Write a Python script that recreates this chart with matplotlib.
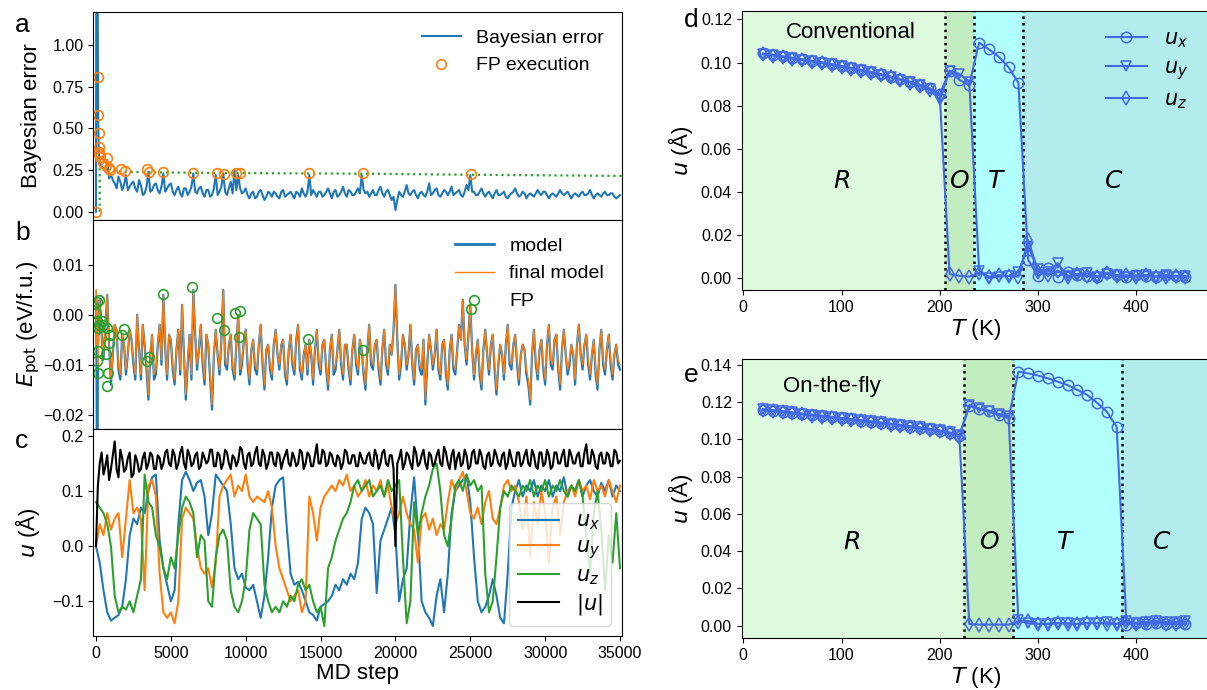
import numpy as np
import matplotlib
matplotlib.use('Agg')
import matplotlib.pyplot as plt
from matplotlib.lines import Line2D

plt.rcParams['font.family'] = ['Liberation Sans', 'DejaVu Sans']
plt.rcParams['mathtext.fontset'] = 'dejavusans'
plt.rcParams['xtick.labelsize'] = 11.5
plt.rcParams['ytick.labelsize'] = 11.5

# ---------------- data: panel a (Bayesian error) ----------------
early_steps = [0, 20, 60, 100, 140, 180, 220]
err_early = [0.0, 1.6, 1.6, 1.6, 0.6, 0.38, 0.32]
# values at steps 250, 500, ..., 35000
bayes_err = [0.30, 0.26, 0.31, 0.22, 0.17, 0.21, 0.13,
             0.22, 0.15, 0.18, 0.12, 0.16, 0.11, 0.24, 0.13,
             0.17, 0.11, 0.23, 0.14, 0.17, 0.10, 0.15, 0.09,
             0.14, 0.12, 0.23, 0.11, 0.15, 0.09, 0.13, 0.10,
             0.22, 0.12, 0.23, 0.10, 0.18, 0.25, 0.22, 0.11,
             0.14, 0.08, 0.12, 0.09, 0.13, 0.07, 0.12, 0.09,
             0.11, 0.08, 0.13, 0.10, 0.12, 0.08, 0.11, 0.14,
             0.09, 0.22, 0.13, 0.09, 0.12, 0.10, 0.14, 0.08,
             0.13, 0.10, 0.15, 0.09, 0.12, 0.10, 0.14, 0.22,
             0.11, 0.09, 0.13, 0.10, 0.15, 0.09, 0.13, 0.07,
             0.01, 0.12, 0.09, 0.16, 0.10, 0.13, 0.08, 0.12,
             0.09, 0.17, 0.11, 0.14, 0.09, 0.13, 0.10, 0.15,
             0.11, 0.13, 0.09, 0.16, 0.22, 0.12, 0.10, 0.14,
             0.09, 0.12, 0.08, 0.13, 0.10, 0.12, 0.08, 0.11,
             0.14, 0.09, 0.12, 0.08, 0.11, 0.09, 0.13, 0.10,
             0.12, 0.08, 0.11, 0.09, 0.13, 0.10, 0.12, 0.08,
             0.11, 0.09, 0.12, 0.10, 0.13, 0.08, 0.11, 0.09,
             0.12, 0.10, 0.11, 0.08, 0.10]
# values at steps 375, 625, ..., 34875
bayes_err_mid = [0.27, 0.24, 0.20, 0.19, 0.14, 0.18, 0.16,
                 0.13, 0.17, 0.14, 0.19, 0.10, 0.15, 0.12, 0.16,
                 0.13, 0.15, 0.12, 0.16, 0.12, 0.13, 0.11, 0.14,
                 0.10, 0.15, 0.12, 0.14, 0.11, 0.13, 0.09, 0.14,
                 0.10, 0.15, 0.12, 0.14, 0.11, 0.13, 0.14, 0.12,
                 0.10, 0.11, 0.08, 0.12, 0.10, 0.09, 0.11, 0.12,
                 0.09, 0.12, 0.09, 0.11, 0.10, 0.12, 0.09, 0.11,
                 0.12, 0.10, 0.11, 0.12, 0.09, 0.12, 0.11, 0.12,
                 0.09, 0.12, 0.11, 0.13, 0.10, 0.12, 0.11, 0.13,
                 0.12, 0.11, 0.10, 0.13, 0.11, 0.12, 0.10, 0.09,
                 0.07, 0.10, 0.12, 0.11, 0.12, 0.10, 0.11, 0.10,
                 0.12, 0.10, 0.13, 0.10, 0.11, 0.12, 0.12, 0.10,
                 0.12, 0.10, 0.12, 0.13, 0.12, 0.10, 0.12, 0.11,
                 0.11, 0.10, 0.11, 0.10, 0.11, 0.09, 0.10, 0.12,
                 0.11, 0.10, 0.11, 0.10, 0.10, 0.11, 0.11, 0.12,
                 0.10, 0.10, 0.10, 0.11, 0.11, 0.11, 0.10, 0.10,
                 0.10, 0.11, 0.10, 0.11, 0.10, 0.10, 0.10, 0.11,
                 0.10, 0.11, 0.09, 0.09]
fp_a_steps = [20, 130, 150, 170, 185, 200, 215, 240, 470, 690, 750, 850, 915,
              1690, 1920, 3430, 3520, 4470, 6450, 8100, 8580, 9340, 9600,
              14210, 17840, 25080]
fp_a_vals = [0.0, 0.81, 0.58, 0.47, 0.39, 0.36, 0.345, 0.33, 0.29, 0.275, 0.325,
             0.26, 0.25, 0.255, 0.245, 0.255, 0.24, 0.24, 0.234, 0.232, 0.226,
             0.234, 0.23, 0.23, 0.232, 0.228]
thr_steps = [247, 247, 700, 1700, 3500, 6500, 9500, 14200, 18000, 25000, 35100]
thr_vals = [0.0, 0.27, 0.25, 0.24, 0.237, 0.234, 0.232, 0.23, 0.228, 0.222, 0.215]

# ---------------- data: panel b (potential energy) ----------------
model_early = [-0.002, 0.003, -0.03, -0.03, 0.002, -0.004, -0.002]
final_early = [-0.002, 0.005, -0.006, 0.002, -0.010, -0.003, -0.001]
# values at steps 250, 500, ..., 35000
model_E = [0.003, -0.009, 0.004, -0.014, -0.002, -0.011, -0.004,
           -0.012, -0.003, -0.010, 0.000, -0.013, -0.006, -0.017, -0.004,
           -0.012, -0.002, 0.004, -0.013, -0.005, -0.014, -0.003, 0.002,
           -0.017, -0.004, 0.005, -0.011, -0.002, -0.014, -0.006, -0.019,
           -0.003, -0.012, 0.005, -0.011, -0.004, -0.013, 0.000, -0.010,
           -0.003, -0.014, -0.005, -0.012, -0.002, -0.015, -0.006, -0.013,
           -0.003, -0.011, -0.005, -0.014, -0.004, -0.012, -0.002, -0.013,
           -0.006, -0.005, -0.014, -0.003, -0.012, -0.005, -0.015, -0.004,
           -0.011, -0.003, -0.013, -0.006, -0.014, -0.004, -0.012, -0.007,
           -0.015, -0.002, -0.011, -0.005, -0.014, -0.003, -0.012, -0.008,
           0.006, -0.013, -0.004, -0.011, -0.002, -0.014, -0.006, -0.012,
           -0.018, -0.004, -0.011, -0.003, -0.013, -0.005, -0.015, -0.004,
           -0.012, -0.002, 0.003, -0.010, 0.002, -0.013, -0.005, -0.015,
           -0.003, -0.012, -0.004, -0.016, -0.006, -0.013, -0.002, -0.011,
           -0.004, -0.014, -0.006, -0.012, -0.018, -0.003, -0.013, -0.005,
           -0.014, -0.002, -0.011, -0.004, -0.015, -0.003, -0.012, -0.006,
           -0.014, -0.002, -0.011, -0.004, -0.013, -0.005, -0.015, -0.003,
           -0.012, -0.004, -0.013, -0.006, -0.011]
final_E = [0.003, -0.008, 0.004, -0.013, -0.002, -0.010, -0.004,
           -0.011, -0.003, -0.009, 0.000, -0.012, -0.006, -0.016, -0.004,
           -0.011, -0.002, 0.004, -0.012, -0.005, -0.013, -0.003, 0.002,
           -0.016, -0.004, 0.005, -0.010, -0.002, -0.013, -0.006, -0.018,
           -0.003, -0.011, 0.005, -0.010, -0.004, -0.012, 0.000, -0.009,
           -0.003, -0.013, -0.005, -0.011, -0.002, -0.014, -0.006, -0.012,
           -0.003, -0.010, -0.005, -0.013, -0.004, -0.011, -0.002, -0.012,
           -0.006, -0.005, -0.013, -0.003, -0.011, -0.005, -0.014, -0.004,
           -0.010, -0.003, -0.012, -0.006, -0.013, -0.004, -0.011, -0.007,
           -0.014, -0.002, -0.010, -0.005, -0.013, -0.003, -0.011, -0.008,
           0.006, -0.012, -0.004, -0.010, -0.002, -0.013, -0.006, -0.011,
           -0.017, -0.004, -0.010, -0.003, -0.012, -0.005, -0.014, -0.004,
           -0.011, -0.002, 0.003, -0.009, 0.002, -0.012, -0.005, -0.014,
           -0.003, -0.011, -0.004, -0.015, -0.006, -0.012, -0.002, -0.010,
           -0.004, -0.013, -0.006, -0.011, -0.017, -0.003, -0.012, -0.005,
           -0.013, -0.002, -0.010, -0.004, -0.014, -0.003, -0.011, -0.006,
           -0.013, -0.002, -0.010, -0.004, -0.012, -0.005, -0.014, -0.003,
           -0.011, -0.004, -0.012, -0.006, -0.010]
# values at steps 375, 625, ..., 34875
model_E_mid = [-0.004, -0.002, -0.006, -0.008, -0.003, -0.013, -0.006,
               -0.008, -0.005, -0.013, -0.007, -0.002, -0.011, -0.008, -0.013,
               -0.006, -0.010, -0.007, -0.004, -0.011, -0.007, -0.012, -0.008,
               -0.010, -0.013, -0.004, -0.007, -0.010, -0.004, -0.013, -0.008,
               -0.008, -0.005, -0.010, -0.006, -0.011, -0.006, -0.012, -0.005,
               -0.010, -0.007, -0.011, -0.006, -0.010, -0.007, -0.011, -0.006,
               -0.008, -0.006, -0.012, -0.007, -0.010, -0.005, -0.011, -0.008,
               -0.012, -0.008, -0.007, -0.010, -0.006, -0.011, -0.007, -0.012,
               -0.007, -0.010, -0.006, -0.011, -0.007, -0.010, -0.005, -0.012,
               -0.007, -0.010, -0.006, -0.011, -0.007, -0.010, -0.006, -0.003,
               -0.005, -0.010, -0.006, -0.008, -0.010, -0.007, -0.011, -0.005,
               -0.010, -0.007, -0.008, -0.011, -0.006, -0.012, -0.007, -0.011,
               -0.007, -0.005, -0.006, -0.004, -0.007, -0.008, -0.012, -0.007,
               -0.008, -0.006, -0.011, -0.010, -0.008, -0.006, -0.010, -0.006,
               -0.010, -0.008, -0.007, -0.014, -0.008, -0.010, -0.007, -0.011,
               -0.006, -0.010, -0.005, -0.011, -0.007, -0.008, -0.010, -0.008,
               -0.006, -0.008, -0.006, -0.010, -0.008, -0.012, -0.007, -0.010,
               -0.007, -0.010, -0.008, -0.010]
final_E_mid = [-0.004, -0.002, -0.006, -0.008, -0.003, -0.012, -0.006,
               -0.008, -0.005, -0.012, -0.007, -0.002, -0.010, -0.008, -0.012,
               -0.006, -0.009, -0.007, -0.004, -0.010, -0.007, -0.011, -0.008,
               -0.009, -0.012, -0.004, -0.007, -0.009, -0.004, -0.012, -0.008,
               -0.008, -0.005, -0.009, -0.006, -0.010, -0.006, -0.011, -0.005,
               -0.009, -0.007, -0.010, -0.006, -0.009, -0.007, -0.010, -0.006,
               -0.008, -0.006, -0.011, -0.007, -0.009, -0.005, -0.010, -0.008,
               -0.011, -0.008, -0.007, -0.009, -0.006, -0.010, -0.007, -0.011,
               -0.007, -0.009, -0.006, -0.010, -0.007, -0.009, -0.005, -0.011,
               -0.007, -0.009, -0.006, -0.010, -0.007, -0.009, -0.006, -0.003,
               -0.005, -0.009, -0.006, -0.008, -0.009, -0.007, -0.010, -0.005,
               -0.009, -0.007, -0.008, -0.010, -0.006, -0.011, -0.007, -0.010,
               -0.007, -0.005, -0.006, -0.004, -0.007, -0.008, -0.011, -0.007,
               -0.008, -0.006, -0.010, -0.009, -0.008, -0.006, -0.009, -0.006,
               -0.009, -0.008, -0.007, -0.013, -0.008, -0.009, -0.007, -0.010,
               -0.006, -0.009, -0.005, -0.010, -0.007, -0.008, -0.009, -0.008,
               -0.006, -0.008, -0.006, -0.009, -0.008, -0.011, -0.007, -0.009,
               -0.007, -0.009, -0.008, -0.009]
fp_b_steps = [89, 222, 0, 89, 222, 378, 490, 156, 712, 935, 890, 156, 668, 89,
              156, 824, 757, 1758, 1892, 3382, 3538, 4450, 6409, 8078, 8545,
              9302, 9591, 9524, 14175, 17847, 25080, 25258]
fp_b_vals = [0.0025, 0.003, 0.0003, -0.0013, -0.002, -0.0013, -0.002, -0.0027,
             -0.0027, -0.004, -0.0057, -0.0072, -0.0079, -0.0093, -0.0117,
             -0.0117, -0.0143, -0.004, -0.0028, -0.0093, -0.0085, 0.0042,
             0.0055, -0.0007, -0.003, 0.0003, 0.0007, -0.0045, -0.0048,
             -0.0071, 0.0012, 0.0029]

# ---------------- data: panel c (displacements), steps 0, 250, ..., 35000 ----
u_x = [0.0, -0.03, -0.08, -0.12, -0.135, -0.13, -0.125, -0.11,
       -0.06, 0.02, 0.05, 0.04, 0.07, 0.06, 0.10, 0.125,
       0.13, 0.01, -0.04, -0.07, -0.10, -0.08, 0.04, 0.12,
       0.135, 0.12, 0.10, 0.115, 0.12, 0.09, 0.02, 0.06,
       0.13, 0.12, 0.11, 0.10, 0.04, -0.04, -0.06, -0.05,
       -0.075, -0.08, -0.07, -0.10, -0.13, -0.09, -0.02, 0.07,
       0.11, 0.12, 0.125, 0.03, -0.05, -0.07, -0.065, -0.08,
       -0.10, -0.12, -0.125, -0.135, -0.11, -0.105, -0.10, -0.09,
       -0.07, -0.08, -0.06, -0.07, -0.05, -0.06, -0.03, 0.05,
       0.07, 0.06, 0.04, -0.085, 0.01, 0.03, 0.05, 0.07,
       0.02, -0.10, -0.06, -0.04, 0.06, 0.125, 0.03, -0.10,
       -0.12, -0.13, -0.145, -0.09, -0.06, -0.12, -0.05, 0.06,
       0.10, 0.11, 0.12, 0.13, 0.08, -0.02, -0.10, -0.12,
       -0.11, -0.09, -0.06, -0.09, -0.13, -0.14, -0.05, 0.07,
       0.10, 0.12, 0.09, 0.11, 0.10, 0.12, 0.09, 0.11,
       0.10, 0.12, 0.09, 0.11, 0.10, 0.125, 0.09, 0.11,
       0.10, 0.12, 0.09, 0.11, 0.12, 0.10, 0.09, 0.115,
       0.10, 0.12, 0.09, 0.11, 0.10]
u_y = [0.0, 0.04, 0.02, 0.06, 0.03, 0.05, 0.06, -0.02,
       0.05, 0.12, 0.06, 0.07, 0.05, -0.08, 0.11, 0.12,
       0.09, -0.05, -0.12, -0.13, -0.12, -0.14, -0.10, 0.05,
       0.07, 0.06, 0.05, 0.00, -0.04, -0.05, -0.04, -0.075,
       -0.03, 0.09, 0.11, 0.12, 0.13, 0.09, 0.11, 0.10,
       0.13, 0.09, 0.08, 0.09, 0.085, 0.08, 0.10, 0.07,
       0.0, -0.04, -0.06, -0.08, -0.10, -0.09, -0.08, -0.12,
       -0.10, 0.09, 0.06, 0.01, 0.07, 0.09, 0.10, 0.11,
       0.10, 0.12, 0.11, 0.13, 0.10, 0.11, 0.09, 0.10,
       0.12, 0.09, 0.11, 0.10, 0.12, 0.09, 0.11, 0.07,
       0.04, 0.06, 0.09, 0.06, 0.04, 0.03, -0.03, 0.05,
       0.06, 0.03, 0.05, 0.02, 0.04, 0.03, 0.08, 0.12,
       0.10, 0.12, 0.135, 0.10, 0.06, 0.05, 0.07, 0.04,
       0.08, 0.10, 0.05, 0.04, 0.07, 0.11, 0.12, 0.10,
       0.11, 0.08, 0.03, 0.09, -0.02, 0.08, 0.04, 0.10,
       0.06, -0.03, 0.07, 0.09, 0.02, 0.08, 0.10, 0.11,
       0.09, 0.12, 0.10, 0.11, 0.085, 0.12, 0.10, 0.11,
       0.09, 0.12, 0.10, 0.08, 0.11]
u_z = [0.08, 0.07, 0.06, 0.04, 0.0, -0.09, -0.12, -0.11,
       -0.115, -0.10, -0.12, -0.09, -0.06, 0.13, 0.08, 0.07,
       0.02, 0.0, -0.04, -0.06, -0.02, -0.04, 0.02, 0.07,
       0.09, 0.08, 0.06, -0.02, 0.02, 0.01, -0.10, -0.11,
       -0.02, 0.02, 0.03, 0.01, -0.08, -0.11, -0.12, -0.10,
       -0.06, 0.03, 0.06, 0.05, 0.04, -0.07, -0.10, -0.12,
       -0.11, -0.12, -0.10, -0.11, -0.09, -0.10, -0.07, -0.06,
       -0.08, -0.07, -0.10, -0.12, -0.11, -0.145, -0.04, -0.02,
       0.01, 0.03, 0.05, 0.06, 0.08, 0.11, 0.12, 0.10,
       0.11, 0.12, 0.09, 0.10, 0.11, 0.09, 0.12, 0.10,
       0.11, 0.12, -0.02, -0.14, -0.10, 0.08, 0.02, 0.06,
       0.09, 0.11, 0.14, 0.15, 0.10, 0.02, 0.00, 0.05,
       0.11, 0.12, 0.10, 0.13, 0.11, 0.12, 0.10, 0.11,
       -0.05, -0.12, -0.10, -0.02, 0.07, 0.10, 0.09, 0.11,
       0.10, 0.09, 0.11, 0.10, 0.12, 0.09, 0.11, 0.10,
       0.12, 0.09, 0.11, 0.10, 0.12, 0.10, 0.09, 0.11,
       0.10, 0.12, 0.09, 0.02, -0.05, 0.06, 0.10, 0.03,
       -0.08, 0.02, -0.03, 0.06, -0.04]
u_abs = [0.0, 0.15, 0.13, 0.165, 0.14, 0.19, 0.125, 0.16,
         0.14, 0.17, 0.13, 0.155, 0.14, 0.17, 0.15, 0.165,
         0.14, 0.16, 0.15, 0.175, 0.145, 0.165, 0.15, 0.18,
         0.14, 0.165, 0.15, 0.17, 0.145, 0.16, 0.155, 0.175,
         0.145, 0.165, 0.15, 0.17, 0.14, 0.16, 0.155, 0.175,
         0.14, 0.17, 0.15, 0.18, 0.145, 0.165, 0.15, 0.17,
         0.145, 0.165, 0.155, 0.175, 0.145, 0.16, 0.15, 0.17,
         0.15, 0.165, 0.145, 0.185, 0.15, 0.17, 0.15, 0.165,
         0.145, 0.16, 0.15, 0.17, 0.15, 0.165, 0.145, 0.16,
         0.15, 0.17, 0.145, 0.165, 0.15, 0.175, 0.145, 0.165,
         0.0, 0.16, 0.14, 0.17, 0.15, 0.18, 0.145, 0.165,
         0.15, 0.17, 0.145, 0.165, 0.15, 0.18, 0.15, 0.165,
         0.14, 0.17, 0.15, 0.165, 0.145, 0.175, 0.15, 0.165,
         0.14, 0.17, 0.15, 0.165, 0.145, 0.17, 0.15, 0.16,
         0.145, 0.17, 0.15, 0.175, 0.145, 0.165, 0.14, 0.17,
         0.15, 0.165, 0.145, 0.17, 0.15, 0.175, 0.145, 0.165,
         0.15, 0.17, 0.145, 0.185, 0.15, 0.165, 0.14, 0.17,
         0.15, 0.165, 0.145, 0.17, 0.155]
# |u| at steps 125, 375, ..., 34875
u_abs_mid = [0.11, 0.17, 0.145, 0.12, 0.165, 0.14, 0.175, 0.135,
             0.16, 0.125, 0.165, 0.135, 0.16, 0.14, 0.17, 0.14,
             0.165, 0.14, 0.17, 0.15, 0.175, 0.14, 0.17, 0.15,
             0.175, 0.145, 0.165, 0.14, 0.17, 0.15, 0.175, 0.145,
             0.17, 0.14, 0.175, 0.15, 0.165, 0.145, 0.18, 0.15,
             0.165, 0.145, 0.17, 0.15, 0.175, 0.14, 0.17, 0.15,
             0.17, 0.14, 0.165, 0.15, 0.17, 0.145, 0.175, 0.14,
             0.17, 0.145, 0.165, 0.15, 0.175, 0.145, 0.17, 0.15,
             0.165, 0.14, 0.175, 0.15, 0.165, 0.145, 0.17, 0.15,
             0.165, 0.15, 0.175, 0.14, 0.17, 0.15, 0.165, 0.14,
             0.15, 0.175, 0.15, 0.165, 0.14, 0.17, 0.15, 0.175,
             0.14, 0.165, 0.15, 0.175, 0.145, 0.17, 0.14, 0.175,
             0.16, 0.145, 0.175, 0.14, 0.17, 0.15, 0.175, 0.145,
             0.165, 0.145, 0.175, 0.15, 0.165, 0.14, 0.175, 0.145,
             0.17, 0.145, 0.165, 0.15, 0.175, 0.145, 0.17, 0.145,
             0.175, 0.14, 0.17, 0.15, 0.165, 0.145, 0.175, 0.15,
             0.165, 0.145, 0.17, 0.15, 0.175, 0.145, 0.165, 0.15,
             0.17, 0.145, 0.175, 0.15]

# ---------------- data: panels d, e (u vs T) ----------------
temps = list(range(20, 451, 10))
d_ux = [0.1042, 0.1036, 0.1029, 0.1022, 0.1015, 0.1008, 0.1001, 0.0993, 0.0984,
        0.0975, 0.0966, 0.0956, 0.0946, 0.0935, 0.0923, 0.0911, 0.0897, 0.0880,
        0.0852, 0.0962, 0.0919, 0.0896, 0.1092, 0.1061, 0.1027, 0.0978, 0.0906,
        0.0085, 0.0010, 0.0046, 0.0008, 0.0031, 0.0015, 0.0011, 0.0008, 0.0026,
        0.0015, 0.0008, 0.0014, 0.0011, 0.0008, 0.0014, 0.0011, 0.0008]
d_uy = [0.1040, 0.1034, 0.1027, 0.1020, 0.1013, 0.1006, 0.0999, 0.0991, 0.0982,
        0.0973, 0.0964, 0.0954, 0.0944, 0.0933, 0.0921, 0.0909, 0.0894, 0.0876,
        0.0826, 0.0962, 0.0947, 0.0911, 0.0036, 0.0001, 0.0008, 0.0011, 0.0030,
        0.0147, 0.0042, 0.0031, 0.0070, 0.0011, 0.0020, 0.0023, 0.0008, 0.0020,
        0.0014, 0.0005, 0.0011, 0.0015, 0.0008, 0.0014, 0.0008, 0.0011]
d_uz = [0.1038, 0.1032, 0.1025, 0.1018, 0.1011, 0.1004, 0.0997, 0.0989, 0.0980,
        0.0971, 0.0962, 0.0952, 0.0942, 0.0931, 0.0919, 0.0907, 0.0892, 0.0874,
        0.0845, 0.0020, 0.0012, 0.0008, 0.0026, 0.0008, 0.0015, 0.0011, 0.0008,
        0.0178, 0.0031, 0.0015, 0.0036, 0.0005, 0.0020, 0.0011, 0.0008, 0.0023,
        0.0011, 0.0015, 0.0008, 0.0014, 0.0008, 0.0005, 0.0011, 0.0005]
e_ux = [0.1160, 0.1155, 0.1149, 0.1143, 0.1137, 0.1131, 0.1125, 0.1119, 0.1113,
        0.1107, 0.1101, 0.1095, 0.1089, 0.1083, 0.1076, 0.1069, 0.1062, 0.1055,
        0.1046, 0.1036, 0.1018, 0.1180, 0.1162, 0.1150, 0.1131, 0.1113, 0.1364,
        0.1355, 0.1343, 0.1328, 0.1310, 0.1292, 0.1266, 0.1239, 0.1197, 0.1149,
        0.1068, 0.0005, 0.0012, 0.0008, 0.0015, 0.0010, 0.0012, 0.0008]
e_uy = [0.1163, 0.1157, 0.1151, 0.1145, 0.1139, 0.1133, 0.1127, 0.1121, 0.1115,
        0.1109, 0.1103, 0.1097, 0.1091, 0.1085, 0.1078, 0.1071, 0.1064, 0.1057,
        0.1048, 0.1038, 0.1021, 0.1185, 0.1167, 0.1155, 0.1137, 0.1126, 0.0028,
        0.0012, 0.0008, 0.0010, 0.0014, 0.0012, 0.0010, 0.0015, 0.0012, 0.0018,
        0.0010, 0.0022, 0.0015, 0.0020, 0.0025, 0.0018, 0.0020, 0.0022]
e_uz = [0.1157, 0.1152, 0.1146, 0.1140, 0.1134, 0.1128, 0.1122, 0.1116, 0.1110,
        0.1104, 0.1098, 0.1092, 0.1086, 0.1080, 0.1073, 0.1066, 0.1059, 0.1052,
        0.1043, 0.1033, 0.1012, 0.0008, 0.0005, 0.0005, 0.0005, 0.0005, 0.0020,
        0.0025, 0.0010, 0.0008, 0.0012, 0.0010, 0.0008, 0.0012, 0.0015, 0.0010,
        0.0008, 0.0020, 0.0010, 0.0012, 0.0018, 0.0010, 0.0008, 0.0012]
d_bounds = [-10, 205, 235, 285, 480]
e_bounds = [-10, 225, 275, 385, 480]
phase_labels = ['R', 'O', 'T', 'C']
d_label_T = [100, 220, 257.6, 377]
e_label_T = [110, 250, 328, 426]
phase_colors = ['#DEFADE', '#C1EDC1', '#B2FFFF', '#B2ECEC']


def interleave(a, b):
    out = []
    for p, q in zip(a, b):
        out += [p, q]
    return out + list(a[len(b):])


# ---------------- figure ----------------
W, H = 1207, 690
fig = plt.figure(figsize=(W / 100, H / 100), dpi=100)


def rect(x0, y0, x1, y1):
    return [x0 / W, 1 - y1 / H, (x1 - x0) / W, (y1 - y0) / H]


ax_a = fig.add_axes(rect(93.3, 12, 621.5, 220))
ax_b = fig.add_axes(rect(93.3, 220, 621.5, 428.5))
ax_c = fig.add_axes(rect(93.3, 428.5, 621.5, 636))
ax_d = fig.add_axes(rect(741.7, 10.7, 1210, 290))
ax_e = fig.add_axes(rect(741.7, 359, 1210, 638))

blue, orange, green = '#1f77b4', '#ff7f0e', '#2ca02c'
ab_steps = early_steps + list(range(250, 35001, 125))
c_steps = list(range(0, 35001, 125))

# panel a
ax_a.plot(ab_steps, err_early + interleave(bayes_err, bayes_err_mid), color=blue,
          lw=1.5, label='Bayesian error')
ax_a.plot(thr_steps, thr_vals, ':', color=green, lw=1.6)
ax_a.plot(fp_a_steps, fp_a_vals, 'o', ls='none', mfc='none', mec=orange, ms=7,
          mew=1.2, label='FP execution')
ax_a.set_ylim(-0.05, 1.2)
ax_a.set_yticks([0, 0.25, 0.5, 0.75, 1.0])
ax_a.set_ylabel('Bayesian error', fontsize=16)
ax_a.legend(loc='upper right', frameon=False, fontsize=14)

# panel b
ax_b.plot(ab_steps, model_early + interleave(model_E, model_E_mid), color=blue, lw=1.6)
ax_b.plot(ab_steps, final_early + interleave(final_E, final_E_mid), color=orange, lw=1.0)
ax_b.plot(fp_b_steps, fp_b_vals, 'o', ls='none', mfc='none', mec=green, ms=7, mew=1.2)
ax_b.set_ylim(-0.0228, 0.019)
ax_b.set_yticks([-0.02, -0.01, 0.0, 0.01])
ax_b.set_yticklabels(['\u22120.02', '\u22120.01', '0.00', '0.01'])
ax_b.set_ylabel(r'$E_{\mathrm{pot}}$ (eV/f.u.)', fontsize=16)
hb = [Line2D([], [], color=blue, lw=2), Line2D([], [], color=orange, lw=1),
      Line2D([], [], ls='none')]
ax_b.legend(hb, ['model', 'final model', 'FP'], loc='upper right', frameon=False,
            fontsize=14)

# panel c
c_grid = list(range(0, 35001, 250))
ax_c.plot(c_grid, u_x, color=blue, lw=1.5, label=r'$u_x$')
ax_c.plot(c_grid, u_y, color=orange, lw=1.5, label=r'$u_y$')
ax_c.plot(c_grid, u_z, color=green, lw=1.5, label=r'$u_z$')
ax_c.plot(c_steps, interleave(u_abs, u_abs_mid), color='black', lw=1.5, label=r'$|u|$')
ax_c.set_ylim(-0.163, 0.2135)
ax_c.set_yticks([-0.1, 0.0, 0.1, 0.2])
ax_c.set_yticklabels(['\u22120.1', '0.0', '0.1', '0.2'])
ax_c.set_ylabel(r'$u$ (Å)', fontsize=16)
ax_c.set_xlabel('MD step', fontsize=16, labelpad=2)
ax_c.legend(loc='lower right', fontsize=15, framealpha=0.8, labelspacing=0.25)
ax_c.set_xticks(range(0, 35001, 5000))

for ax in (ax_a, ax_b, ax_c):
    ax.set_xlim(-180, 35100)
    ax.yaxis.set_label_coords(-0.097, 0.5)
for ax in (ax_a, ax_b):
    ax.tick_params(axis='x', bottom=False, labelbottom=False)

# panels d, e
for ax, ux, uy, uz, bounds, lab_T, ylim, yt, title, tx0, ty in (
        (ax_d, d_ux, d_uy, d_uz, d_bounds, d_label_T, (-0.0054, 0.124),
         np.arange(0, 0.121, 0.02), 'Conventional', 43, 0.1137),
        (ax_e, e_ux, e_uy, e_uz, e_bounds, e_label_T, (-0.0067, 0.1432),
         np.arange(0, 0.141, 0.02), 'On-the-fly', 40, 0.1283)):
    for i in range(4):
        ax.axvspan(bounds[i], bounds[i + 1], color=phase_colors[i], lw=0, zorder=0)
    for b in bounds[1:4]:
        ax.axvline(b, color='black', ls=':', lw=1.8, zorder=1)
    ax.plot(temps, ux, color='royalblue', lw=1.5, marker='o', mfc='none', ms=7.5,
            mew=1.1, label=r'$u_x$', zorder=3)
    ax.plot(temps, uy, color='royalblue', lw=1.5, marker='v', mfc='none', ms=7.5,
            mew=1.1, label=r'$u_y$', zorder=3)
    ax.plot(temps, uz, color='royalblue', lw=1.5, marker='d', mfc='none', ms=7.5,
            mew=1.1, label=r'$u_z$', zorder=3)
    ax.set_xlim(-1.6, 475)
    ax.set_ylim(*ylim)
    ax.set_yticks(yt)
    ax.set_yticklabels(['%.2f' % v for v in yt])
    ax.set_xticks([0, 100, 200, 300, 400])
    ax.set_xlabel(r'$T$ (K)', fontsize=16, labelpad=2)
    ax.set_ylabel(r'$u$ (Å)', fontsize=16)
    for lab, tx in zip(phase_labels, lab_T):
        ax.text(tx, 0.045, '$%s$' % lab, fontsize=18, ha='center', va='center')
    ax.text(tx0, ty, title, fontsize=16, ha='left', va='center')

ax_d.legend(loc='upper right', frameon=False, fontsize=15, labelspacing=0.4,
            bbox_to_anchor=(0.993, 1.0))

# panel letters
for letter, x, y in (('a', 15, 32), ('b', 15, 240), ('c', 15, 448),
                     ('d', 684, 27), ('e', 684, 382)):
    fig.text(x / W, 1 - y / H, letter, fontsize=19, va='baseline', ha='left')

fig.savefig('out.png', dpi=100)
